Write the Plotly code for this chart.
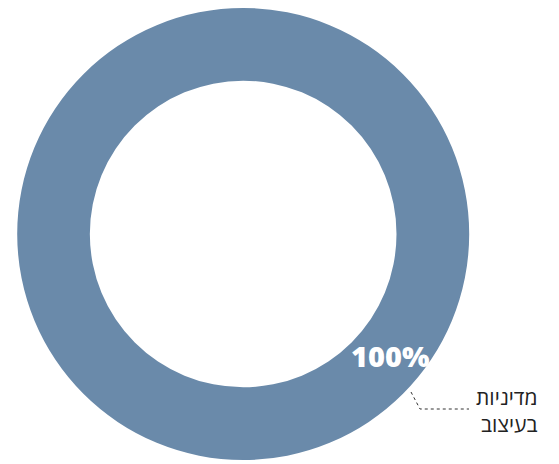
import plotly.graph_objects as go

labels = ["מדיניות בעיצוב"]
values = [100]
colors = ["#6A8AAA"]

W, H = 559, 464
OFF = 8  # default page body margin
cx, cy, R, r = 243.2, 234.0, 226.0, 153.3

total = sum(values)
pct = [f"{round(v / total * 100)}%" for v in values]


def px(x):
    return (x - OFF) / W


def py(y):
    return (H - (y - OFF)) / H


fig = go.Figure(go.Pie(
    labels=labels,
    values=values,
    hole=r / R,
    sort=False,
    direction="clockwise",
    marker=dict(colors=colors, line=dict(width=0)),
    textinfo="none",
    hoverinfo="label+percent",
    showlegend=False,
    domain=dict(x=[px(cx - R), px(cx + R)], y=[max(0, py(cy + R)), min(1, py(cy - R))]),
))

fig.add_annotation(x=px(389.5), y=py(355), xref="paper", yref="paper", xanchor="center", yanchor="middle",
                   text=pct[0],
                   showarrow=False, font=dict(family="Open Sans, DejaVu Sans", size=29, color="white", weight=800))

fig.add_annotation(x=px(539), y=py(410), xref="paper", yref="paper", xanchor="right", yanchor="middle",
                   text="מדיניות<br>בעיצוב", showarrow=False, align="right",
                   font=dict(family="Open Sans, Liberation Sans, DejaVu Sans", size=21, color="#222222"))

fig.add_shape(type="path", xref="paper", yref="paper",
              path=f"M {px(411)} {py(392)} L {px(420)} {py(409)} L {px(469)} {py(409)}",
              line=dict(color="#333333", width=1, dash="dot"))

fig.update_layout(width=W, height=H, margin=dict(l=0, r=0, t=0, b=0),
                  paper_bgcolor="white", plot_bgcolor="white")

fig.write_html("out.html")
